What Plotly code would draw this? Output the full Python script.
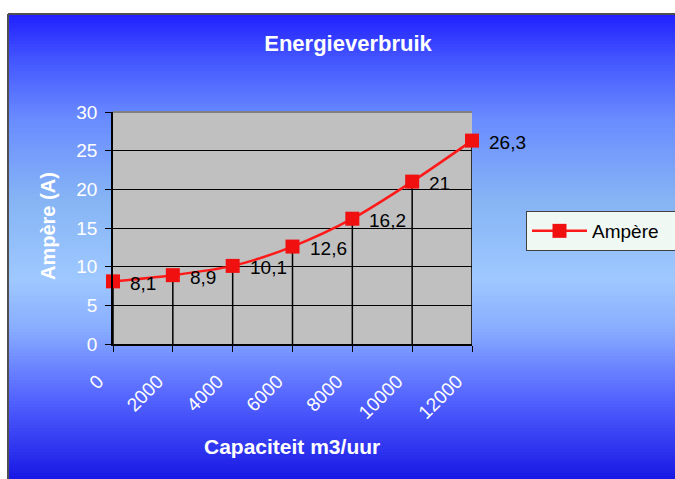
import plotly.graph_objects as go

# ---- data ----
capacity = [0, 2000, 4000, 6000, 8000, 10000, 12000]
ampere = [8.1, 8.9, 10.1, 12.6, 16.2, 21, 26.3]
x_ticks = [0, 2000, 4000, 6000, 8000, 10000, 12000]
y_ticks = [0, 5, 10, 15, 20, 25, 30]
labels = [("%g" % v).replace(".", ",") for v in ampere]

W, H = 675, 479
L, R, T, B = 113, 472, 112, 344  # plot area in pixels
FONT = "Arial, Liberation Sans"


def px(x):
    return (x - L) / (R - L)


def py(y):
    return (B - y) / (B - T)


def hexmix(c1, c2, t):
    a = [int(c1[i:i + 2], 16) for i in (1, 3, 5)]
    b = [int(c2[i:i + 2], 16) for i in (1, 3, 5)]
    return "#%02x%02x%02x" % tuple(round(a[k] + (b[k] - a[k]) * t) for k in range(3))


stops = [(14, "#2020ff"), (60, "#4456ff"), (120, "#6a8cff"), (200, "#86b4f4"),
         (280, "#9ec8ff"), (330, "#88acff"), (400, "#5262ff"), (479, "#1818e4")]


def grad(y):
    for (y0, c0), (y1, c1) in zip(stops, stops[1:]):
        if y0 <= y <= y1:
            return hexmix(c0, c1, (y - y0) / (y1 - y0))
    return stops[-1][1]


shapes = []
step = 3
y = 14
while y < H:
    shapes.append(dict(type="rect", xref="paper", yref="paper", layer="below",
                       x0=px(8), x1=px(W + 5), y0=py(y), y1=py(min(y + step + 0.5, H + 2)),
                       line=dict(width=0), fillcolor=grad(y + step / 2)))
    y += step
# plot area background
shapes.append(dict(type="rect", xref="paper", yref="paper", layer="below",
                   x0=0, x1=1, y0=0, y1=1, line=dict(width=0), fillcolor="#c0c0c0"))
# plot area top border
shapes.append(dict(type="line", xref="paper", yref="paper", layer="above",
                   x0=0, x1=1, y0=1, y1=1, line=dict(color="#808080", width=2)))
# outer chart border
shapes.append(dict(type="line", xref="paper", yref="paper", layer="above",
                   x0=px(8), x1=px(W + 5), y0=py(14), y1=py(14), line=dict(color="#505050", width=2)))
shapes.append(dict(type="line", xref="paper", yref="paper", layer="above",
                   x0=px(8), x1=px(8), y0=py(14), y1=py(H + 5), line=dict(color="#505050", width=2)))

fig = go.Figure()
# drop lines
fig.add_trace(go.Scatter(
    x=capacity, y=ampere, mode="markers", marker=dict(size=1, opacity=0),
    error_y=dict(type="data", symmetric=False, array=[0] * len(ampere), arrayminus=ampere,
                 width=0, thickness=1.5, color="black"),
    showlegend=False, hoverinfo="skip", cliponaxis=False))
fig.add_trace(go.Scatter(
    x=capacity, y=ampere, name="Ampère", mode="lines+markers",
    line=dict(color="#ff1a1a", width=2.5, shape="spline", smoothing=0.8),
    marker=dict(symbol="square", size=14, color="#f01010"),
    cliponaxis=False))

annotations = [
    dict(text="<b>Ampère (A)</b>", xref="paper", yref="paper", x=px(48), y=py(226),
         showarrow=False, textangle=-90, xanchor="center", yanchor="middle",
         font=dict(family=FONT, size=20, color="white")),
    dict(text="<b>Capaciteit m3/uur</b>", xref="paper", yref="paper", x=px(292), y=py(446),
         showarrow=False, xanchor="center", yanchor="middle",
         font=dict(family=FONT, size=21, color="white")),
]
for xv, yv, lab in zip(capacity, ampere, labels):
    annotations.append(dict(text=lab, x=xv, y=yv, xref="x", yref="y", showarrow=False,
                            xanchor="left", yanchor="middle", xshift=15, yshift=-2,
                            font=dict(family=FONT, size=19, color="black")))

fig.update_layout(
    width=W, height=H, autosize=False,
    margin=dict(l=L, r=W - R, t=T, b=H - B, pad=0, autoexpand=False),
    paper_bgcolor="white", plot_bgcolor="rgba(0,0,0,0)",
    shapes=shapes,
    title=dict(text="<b>Energieverbruik</b>", x=348 / W, xref="container", xanchor="center",
               y=1 - 43 / H, yref="container", yanchor="middle",
               font=dict(family=FONT, size=22, color="white")),
    xaxis=dict(range=[0, 12000], tickvals=x_ticks, ticktext=[str(v) for v in x_ticks],
               tickangle=-45, ticks="outside", ticklen=6, tickcolor="black",
               ticklabelstandoff=11, ticklabelshift=-15,
               showline=True, linecolor="black", linewidth=1.5, showgrid=False, zeroline=False,
               tickfont=dict(family=FONT, size=19, color="white")),
    yaxis=dict(range=[0, 30], tickvals=y_ticks, ticks="outside", ticklen=6, tickcolor="black",
               ticklabelstandoff=4,
               showline=True, linecolor="black", linewidth=1.5, showgrid=True,
               gridcolor="black", gridwidth=1, zeroline=False,
               tickfont=dict(family=FONT, size=19, color="white")),
    legend=dict(x=px(526), y=py(211), xanchor="left", yanchor="top", orientation="h",
                bgcolor="#f0f8f4", bordercolor="#404040", borderwidth=1,
                font=dict(family=FONT, size=19, color="black"),
                itemwidth=55, entrywidth=170, entrywidthmode="pixels"),
    annotations=annotations,
)

fig.write_html("out.html", post_script="document.body.style.margin='0';",
               config={"displayModeBar": False})
